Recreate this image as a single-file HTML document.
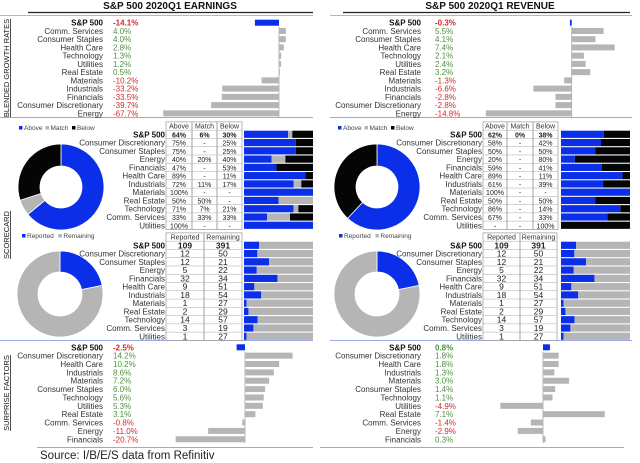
<!DOCTYPE html>
<html><head><meta charset="utf-8">
<style>
html,body{margin:0;padding:0;background:#fff;}
svg{display:block;font-family:"Liberation Sans",Arial,sans-serif;}
</style></head>
<body>
<svg id="chart" width="640" height="463" viewBox="0 0 640 463" xmlns="http://www.w3.org/2000/svg"></svg>
<script>
const growthCatsE = ["S&P 500","Comm. Services","Consumer Staples","Health Care","Technology","Utilities","Real Estate","Materials","Industrials","Financials","Consumer Discretionary","Energy"];
const growthValsE = [-14.1,4.0,4.0,2.8,1.3,1.2,0.5,-10.2,-33.2,-33.5,-39.7,-67.7];
const growthCatsR = ["S&P 500","Comm. Services","Consumer Staples","Health Care","Technology","Utilities","Real Estate","Materials","Industrials","Financials","Consumer Discretionary","Energy"];
const growthValsR = [-0.3,5.5,4.1,7.4,2.1,2.4,3.2,-1.3,-6.6,-2.8,-2.8,-14.8];
const scoreCats = ["S&P 500","Consumer Discretionary","Consumer Staples","Energy","Financials","Health Care","Industrials","Materials","Real Estate","Technology","Comm. Services","Utilities"];
const earnAbove = [64,75,75,40,47,89,72,100,50,71,33,100];
const earnMatch = [6,0,0,20,0,0,11,0,50,7,33,0];
const earnBelow = [30,25,25,40,53,11,17,0,0,21,33,0];
const revAbove = [62,58,50,20,59,89,61,100,50,86,67,0];
const revMatch = [0,0,0,0,0,0,0,0,0,0,0,0];
const revBelow = [38,42,50,80,41,11,39,0,50,14,33,100];
const reported = [109,12,12,5,32,9,18,1,2,14,3,1];
const remaining = [391,50,21,22,34,51,54,27,29,57,19,27];
const surpCatsE = ["S&P 500","Consumer Discretionary","Health Care","Industrials","Materials","Consumer Staples","Technology","Utilities","Real Estate","Comm. Services","Energy","Financials"];
const surpValsE = [-2.5,14.2,10.2,8.6,7.2,6.0,5.6,5.3,3.1,-0.8,-11.0,-20.7];
const surpCatsR = ["S&P 500","Consumer Discretionary","Health Care","Industrials","Materials","Consumer Staples","Technology","Utilities","Real Estate","Comm. Services","Energy","Financials"];
const surpValsR = [0.8,1.8,1.8,1.3,3.0,1.4,1.1,-4.9,7.1,-1.4,-2.9,0.3];

const NS="http://www.w3.org/2000/svg";
const svg=document.getElementById('chart');
const BLUE="#0b2ee8",GRAY="#b5b5b5",BLACK="#050505",GREEN="#4f9040",RED="#d42a2a";
function mk(tag,attrs,parent){const e=document.createElementNS(NS,tag);for(const k in attrs)e.setAttribute(k,attrs[k]);(parent||svg).appendChild(e);return e;}
function txt(x,y,s,attrs){const e=mk('text',Object.assign({x:x,y:y,'font-size':8,fill:'#222'},attrs||{}));e.textContent=s;return e;}
const fmt=v=>v.toFixed(1)+'%';

let t=txt(170,9,"S&P 500 2020Q1 EARNINGS",{'font-size':10,'font-weight':'bold','text-anchor':'middle',fill:'#111'});

t=txt(490,9,"S&P 500 2020Q1 REVENUE",{'font-size':10,'font-weight':'bold','text-anchor':'middle',fill:'#111'});

mk('line',{x1:28,y1:12.5,x2:313,y2:12.5,stroke:'#222','stroke-width':1.2});
mk('line',{x1:343,y1:12.5,x2:630,y2:12.5,stroke:'#222','stroke-width':1.2});
mk('line',{x1:0,y1:15.5,x2:313,y2:15.5,stroke:'#aab4e8','stroke-width':1});
mk('line',{x1:330,y1:15.5,x2:632,y2:15.5,stroke:'#aab4e8','stroke-width':1});
[[0,117,313],[330,117,632],[0,340,313],[330,340,632],[37,447,313],[320,447,624]].forEach(a=>mk('line',{x1:a[0],y1:a[1]+0.5,x2:a[2],y2:a[1]+0.5,stroke:'#9aa8e6','stroke-width':1}));

function vlabel(cx,cy,s,name){const e=txt(0,0,s,{'font-size':7.5,'text-anchor':'middle','text-decoration':'underline',fill:'#111',transform:`translate(${cx},${cy}) rotate(-90)`});}
vlabel(9,68,"BLENDED GROWTH RATES",'growth-section-label');
vlabel(9,235,"SCORECARD",'scorecard-section-label');
vlabel(9,393,"SURPRISE FACTORS",'surprise-section-label');

function diverge(cats,vals,y0,step,labelX,valX,zeroX,scale,prefix){
  const g=mk('g',{});
  
  
  const xS=v=>zeroX+v*scale;
  mk('line',{x1:zeroX,y1:y0+step-4,x2:zeroX,y2:y0+step*(cats.length-1)+4,stroke:'#aaa','stroke-width':0.8},g);
  cats.forEach((c,i)=>{
    const y=y0+i*step;
    const lab=txt(labelX,y+3,c,{'text-anchor':'end','font-weight':i===0?'bold':'normal',fill:i===0?'#111':'#333'});
    
    
    g.appendChild(lab);
    const v=vals[i];
    const val=txt(valX,y+3,fmt(v),{fill:v<0?RED:GREEN,'font-weight':i===0?'bold':'normal'});
    
    
    g.appendChild(val);
    const x1=Math.min(xS(0),xS(v)),w=Math.abs(xS(v)-xS(0));
    const b=mk('rect',{x:x1,y:y-3,width:Math.max(w,0.8),height:6,fill:i===0?BLUE:GRAY},g);
    
    
  });
}
diverge(growthCatsE,growthValsE,22.7,8.24,103,113,279,1.71,'earnings-growth');
diverge(growthCatsR,growthValsR,22.7,8.24,421,435,571.7,5.8,'revenue-growth');
diverge(surpCatsE,surpValsE,347.3,8.36,103,113,245,3.35,'earnings-surprise');
diverge(surpCatsR,surpValsR,347.3,8.36,421,435,543,8.7,'revenue-surprise');

function donut(cx,cy,r,ri,vals,cols,name){
  const g=mk('g',{});
  
  
  const tot=vals.reduce((a,b)=>a+b,0);let a0=-Math.PI/2;
  vals.forEach((v,i)=>{
    if(v<=0)return;
    const a1=a0+v/tot*2*Math.PI,large=(a1-a0)>Math.PI?1:0;
    const p=(rr,a)=>[cx+rr*Math.cos(a),cy+rr*Math.sin(a)];
    const [x0,y0]=p(r,a0),[x1,y1]=p(r,a1),[x2,y2]=p(ri,a1),[x3,y3]=p(ri,a0);
    const s=mk('path',{d:`M${x0},${y0}A${r},${r} 0 ${large} 1 ${x1},${y1}L${x2},${y2}A${ri},${ri} 0 ${large} 0 ${x3},${y3}Z`,fill:cols[i],stroke:'#fff','stroke-width':0.8},g);
    
    
    a0=a1;
  });
}
function legend(x,y,items,name){
  const g=mk('g',{});
  
  
  let cx=x;
  items.forEach(it=>{
    mk('rect',{x:cx,y:y-4,width:3.5,height:3.5,fill:it[1]},g);
    const e=txt(cx+5,y,it[0],{'font-size':6.5,fill:'#444'});g.appendChild(e);
    cx+=5+it[0].length*3.3+5;
  });
}

function scoreTable(opts){
  const {labelX,cols,heads,rows,barX,barW,y0,step,prefix}=opts;
  const top=y0-step*1.5, n=scoreCats.length;
  const g=mk('g',{});
  
  
  cols.forEach((c,j)=>{
    mk('rect',{x:c[0],y:top,width:c[1]-c[0],height:step*(n+1),fill:'none',stroke:'#999','stroke-width':0.7},g);
    const h=txt((c[0]+c[1])/2,top+step-1.5,heads[j],{'text-anchor':'middle','font-size':7,fill:'#333'});g.appendChild(h);
  });
  for(let i=0;i<=n;i++) mk('line',{x1:cols[0][0],y1:top+step*(i+1),x2:cols[cols.length-1][1],y2:top+step*(i+1),stroke:'#aaa','stroke-width':0.5},g);
  scoreCats.forEach((c,i)=>{
    const y=y0+i*step;
    const l=txt(labelX,y+3,c,{'text-anchor':'end','font-weight':i===0?'bold':'normal',fill:i===0?'#111':'#333'});
    
    
    g.appendChild(l);
    rows.forEach((r,j)=>{
      const s=r.text(i);
      const cell=txt((cols[j][0]+cols[j][1])/2,y+3,s,{'text-anchor':'middle','font-size':r.fs||7,'font-weight':i===0?'bold':'normal',fill:'#222'});
      
      
      g.appendChild(cell);
    });
    const segs=opts.segs(i),tot=segs.reduce((a,b)=>a+b[0],0);let x=barX;
    segs.forEach(sg=>{
      if(sg[0]<=0)return;
      const w=sg[0]/tot*barW;
      const b=mk('rect',{x:x,y:y-3.6,width:w,height:7.2,fill:sg[1]},g);
      
      
      x+=w;
    });
  });
}
const pct=(arr,i)=>arr[i]===0?(i===0?'0%':'-'):arr[i]+'%';

legend(19,130,[["Above",BLUE],["Match",GRAY],["Below",BLACK]],'earnings-scorecard-legend');
legend(338,130,[["Above",BLUE],["Match",GRAY],["Below",BLACK]],'revenue-scorecard-legend');
donut(61,187,43,21,[earnAbove[0],earnMatch[0],earnBelow[0]],[BLUE,GRAY,BLACK],'earnings-beat-donut');
donut(377,187,43,21,[revAbove[0],revMatch[0],revBelow[0]],[BLUE,GRAY,BLACK],'revenue-beat-donut');
scoreTable({labelX:165,cols:[[166,192],[192,217],[217,242]],heads:["Above","Match","Below"],
  rows:[{text:i=>pct(earnAbove,i)},{text:i=>pct(earnMatch,i)},{text:i=>pct(earnBelow,i)}],
  barX:244,barW:69,y0:134.3,step:8.27,prefix:'earnings-beat',
  segs:i=>[[earnAbove[i],BLUE],[earnMatch[i],GRAY],[earnBelow[i],BLACK]]});
scoreTable({labelX:482,cols:[[483,507],[507,533],[533,558]],heads:["Above","Match","Below"],
  rows:[{text:i=>pct(revAbove,i)},{text:i=>pct(revMatch,i)},{text:i=>pct(revBelow,i)}],
  barX:561,barW:69,y0:134.3,step:8.27,prefix:'revenue-beat',
  segs:i=>[[revAbove[i],BLUE],[revMatch[i],GRAY],[revBelow[i],BLACK]]});

legend(22,238,[["Reported",BLUE],["Remaining",GRAY]],'earnings-reported-legend');
legend(339,238,[["Reported",BLUE],["Remaining",GRAY]],'revenue-reported-legend');
donut(60,294,43,22,[reported[0],remaining[0]],[BLUE,GRAY],'earnings-reported-donut');
donut(377,294,43,22,[reported[0],remaining[0]],[BLUE,GRAY],'revenue-reported-donut');
scoreTable({labelX:165,cols:[[166,204],[204,242]],heads:["Reported","Remaining"],
  rows:[{text:i=>String(reported[i]),fs:8.5},{text:i=>String(remaining[i]),fs:8.5}],
  barX:244,barW:69,y0:245.3,step:8.27,prefix:'earnings-reported',
  segs:i=>[[reported[i],BLUE],[remaining[i],GRAY]]});
scoreTable({labelX:482,cols:[[483,520],[520,557]],heads:["Reported","Remaining"],
  rows:[{text:i=>String(reported[i]),fs:8.5},{text:i=>String(remaining[i]),fs:8.5}],
  barX:561,barW:69,y0:245.3,step:8.27,prefix:'revenue-reported',
  segs:i=>[[reported[i],BLUE],[remaining[i],GRAY]]});

t=txt(40,459,"Source: I/B/E/S data from Refinitiv",{'font-size':11.5,fill:'#222'});

</script>
</body></html>
